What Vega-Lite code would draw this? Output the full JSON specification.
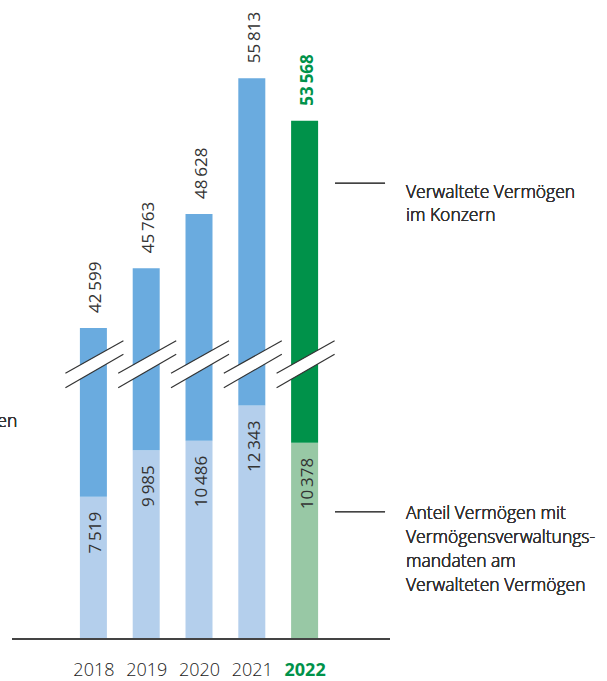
{
  "$schema": "https://vega.github.io/schema/vega-lite/v6.json",
  "width": 607,
  "height": 639,
  "padding": {"left": 0, "right": 0, "top": 0, "bottom": 42},
  "autosize": {"type": "none"},
  "background": "white",
  "config": {
    "view": {"stroke": null},
    "locale": {"number": {"decimal": ",", "thousands": "\u2009", "grouping": [3], "currency": ["", " €"]}},
    "text": {"font": "Open Sans", "fontSize": 17, "fontWeight": "normal", "color": "#333333"}
  },
  "data": {"values": [
    {"year": 2018, "anteil": 7519, "total": 42599},
    {"year": 2019, "anteil": 9985, "total": 45763},
    {"year": 2020, "anteil": 10486, "total": 48628},
    {"year": 2021, "anteil": 12343, "total": 55813},
    {"year": 2022, "anteil": 10378, "total": 53568}
  ]},
  "layer": [
    {
      "mark": {"type": "bar", "size": 27},
      "encoding": {
        "x": {"field": "year", "type": "quantitative",
          "scale": {"domain": [2016.231, 2027.727], "nice": false, "zero": false, "padding": 0},
          "axis": {"values": [2018, 2019, 2020, 2021, 2022], "format": "d", "title": null,
            "domain": false, "ticks": false, "tickSize": 0, "grid": false,
            "labelFont": "Open Sans", "labelFontSize": 18, "labelBaseline": "alphabetic", "labelPadding": 36,
            "labelColor": {"condition": {"test": "datum.value === 2022", "value": "#00924a"}, "value": "#1a1a1a"},
            "labelFontWeight": {"condition": {"test": "datum.value === 2022", "value": "bold"}, "value": 300}}},
        "y": {"field": "anteil", "type": "quantitative",
          "scale": {"domain": [0, 14511, 40667, 59947], "range": [639, 364.6, 364.6, 0], "nice": false, "zero": false, "padding": 0},
          "axis": null},
        "color": {"condition": {"test": "datum.year === 2022", "value": "#98c8a5"}, "value": "#b4cfec"}
      }
    },
    {
      "mark": {"type": "bar", "size": 27},
      "encoding": {
        "x": {"field": "year", "type": "quantitative"},
        "y": {"field": "anteil", "type": "quantitative"},
        "y2": {"field": "total"},
        "color": {"condition": {"test": "datum.year === 2022", "value": "#00924a"}, "value": "#6aabdf"}
      }
    },
    {
      "mark": {"type": "rule", "color": "white", "strokeWidth": 12, "xOffset": -28, "x2Offset": 30, "strokeCap": "butt"},
      "encoding": {
        "x": {"field": "year", "type": "quantitative"},
        "x2": {"field": "year"},
        "y": {"datum": 13670, "type": "quantitative"},
        "y2": {"datum": 41571}
      }
    },
    {
      "mark": {"type": "rule", "color": "#333333", "strokeWidth": 1.2, "xOffset": -28, "x2Offset": 30},
      "encoding": {
        "x": {"field": "year", "type": "quantitative"},
        "x2": {"field": "year"},
        "y": {"datum": 14051, "type": "quantitative"},
        "y2": {"datum": 41930}
      }
    },
    {
      "mark": {"type": "rule", "color": "#333333", "strokeWidth": 1.2, "xOffset": -28, "x2Offset": 30},
      "encoding": {
        "x": {"field": "year", "type": "quantitative"},
        "x2": {"field": "year"},
        "y": {"datum": 13289, "type": "quantitative"},
        "y2": {"datum": 41211}
      }
    },
    {
      "transform": [{"filter": "datum.year !== 2022"}],
      "mark": {"type": "text", "angle": 270, "align": "left", "baseline": "alphabetic", "dx": 15, "dy": 8},
      "encoding": {
        "x": {"field": "year", "type": "quantitative"},
        "y": {"field": "total", "type": "quantitative"},
        "text": {"field": "total", "type": "quantitative", "format": ",d"}
      }
    },
    {
      "transform": [{"filter": "datum.year === 2022"}],
      "mark": {"type": "text", "angle": 270, "align": "left", "baseline": "alphabetic", "dx": 15, "dy": 8, "fontWeight": "bold", "color": "#00924a"},
      "encoding": {
        "x": {"field": "year", "type": "quantitative"},
        "y": {"field": "total", "type": "quantitative"},
        "text": {"field": "total", "type": "quantitative", "format": ",d"}
      }
    },
    {
      "mark": {"type": "text", "angle": 270, "align": "right", "baseline": "alphabetic", "dx": -15, "dy": 8},
      "encoding": {
        "x": {"field": "year", "type": "quantitative"},
        "y": {"field": "anteil", "type": "quantitative"},
        "text": {"field": "anteil", "type": "quantitative", "format": ",d"}
      }
    },
    {
      "mark": {"type": "rule", "color": "#444444", "strokeWidth": 1.5},
      "encoding": {
        "x": {"datum": 2016.458, "type": "quantitative"},
        "x2": {"datum": 2023.617},
        "y": {"datum": 0, "type": "quantitative"}
      }
    },
    {
      "mark": {"type": "rule", "color": "#444444", "strokeWidth": 1},
      "encoding": {
        "x": {"datum": 2022.576, "type": "quantitative"},
        "x2": {"datum": 2023.523},
        "y": {"datum": 50254, "type": "quantitative"}
      }
    },
    {
      "mark": {"type": "rule", "color": "#444444", "strokeWidth": 1},
      "encoding": {
        "x": {"datum": 2022.576, "type": "quantitative"},
        "x2": {"datum": 2023.523},
        "y": {"datum": 6732, "type": "quantitative"}
      }
    },
    {
      "mark": {"type": "text", "align": "left", "baseline": "alphabetic", "lineHeight": 23, "fontWeight": 300, "fontSize": 17.5},
      "encoding": {
        "x": {"datum": 2023.92, "type": "quantitative"},
        "y": {"datum": 49460, "type": "quantitative"},
        "text": {"value": ["Verwaltete Vermögen", "im Konzern"]}
      }
    },
    {
      "mark": {"type": "text", "align": "left", "baseline": "alphabetic", "lineHeight": 24, "fontWeight": 300, "fontSize": 17.5},
      "encoding": {
        "x": {"datum": 2023.92, "type": "quantitative"},
        "y": {"datum": 6330, "type": "quantitative"},
        "text": {"value": ["Anteil Vermögen mit", "Vermögensverwaltungs-", "mandaten am", "Verwalteten Vermögen"]}
      }
    },
    {
      "mark": {"type": "text", "align": "right", "baseline": "alphabetic", "fontWeight": 300, "fontSize": 17.5},
      "encoding": {
        "x": {"datum": 2016.559, "type": "quantitative"},
        "y": {"datum": 11227, "type": "quantitative"},
        "text": {"value": "en"}
      }
    }
  ]
}
